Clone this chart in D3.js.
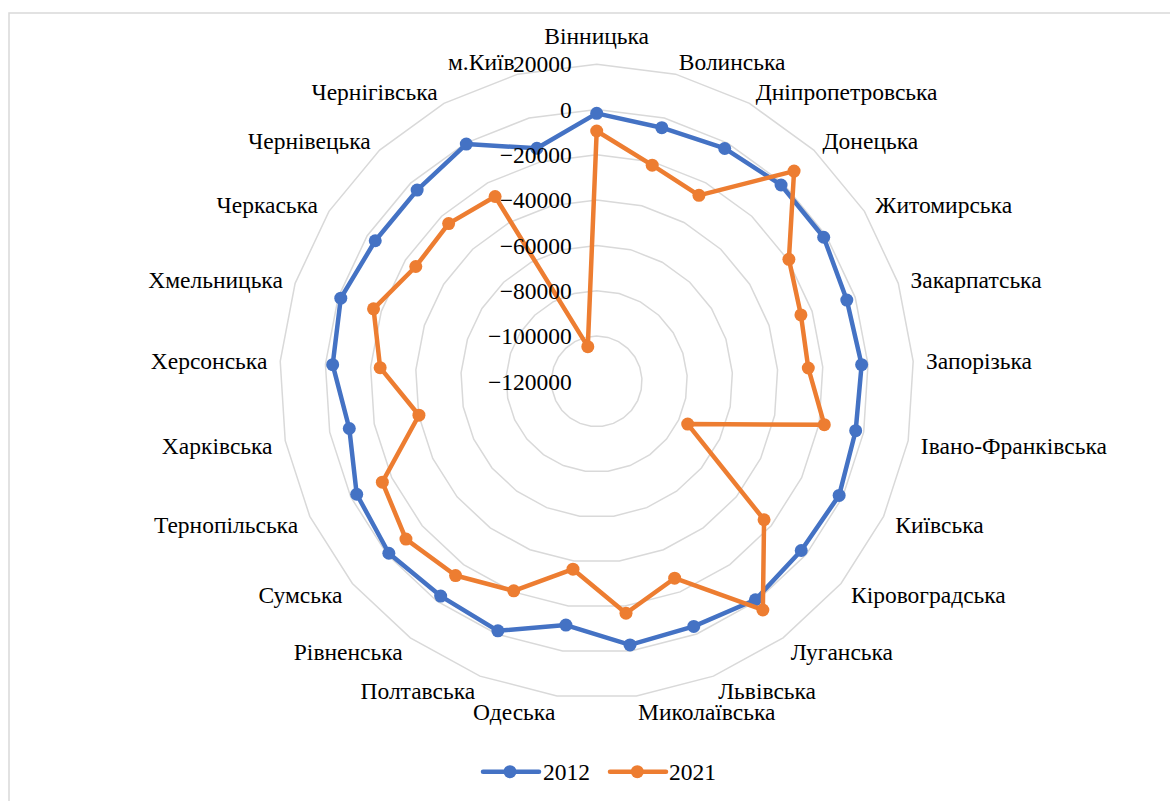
<!DOCTYPE html>
<html><head><meta charset="utf-8">
<script src="https://cdn.jsdelivr.net/npm/d3@7"></script>
<style>html,body{margin:0;padding:0;background:#fff;overflow:hidden}</style>
</head><body>
<svg id="c" width="1170" height="801"></svg>
<script>
const categories = ["Вінницька","Волинська","Дніпропетровська","Донецька","Житомирська","Закарпатська","Запорізька","Івано-Франківська","Київська","Кіровоградська","Луганська","Львівська","Миколаївська","Одеська","Полтавська","Рівненська","Сумська","Тернопільська","Харківська","Херсонська","Хмельницька","Черкаська","Чернівецька","Чернігівська","м.Київ"];
const values2012 = [-1700,-4400,-2700,-1100,-1300,-3900,-2800,-3600,-1700,-2800,-800,-3600,-2700,-11500,-1500,-2800,-900,-2900,-8800,-3200,-1200,-4200,-4200,-500,-13800];
const values2021 = [-9500,-21500,-26300,7300,-19500,-25200,-26400,-17700,-75600,-24100,4800,-26500,-16800,-36400,-20500,-14000,-10700,-15400,-40100,-24200,-16400,-25400,-24500,-26900,-104200];
const seriesNames = ["2012","2021"];
const tickValues = [-120000,-100000,-80000,-60000,-40000,-20000,0,20000];

const family = '"Liberation Serif","Times New Roman",serif';
const fs = 23.5;
const colors = ["#4472C4","#ED7D31"];
const svg = d3.select("#c");
const cx = 596.7, cy = 381.3;
svg.append("rect").attr("x",9).attr("y",13).attr("width",1200).attr("height",900)
  .attr("fill","#fff").attr("stroke","#d9d9d9").attr("stroke-width",1.5);

const r = d3.scaleLinear().domain([-120000,20000]).range([0,317.1]);
const n = categories.length;
const ang = d3.scaleLinear().domain([0,n]).range([0,2*Math.PI]);
const pt = (i,v)=>[cx + r(v)*Math.sin(ang(i)), cy - r(v)*Math.cos(ang(i))];

const g = svg.append("g").style("font-family", family);
tickValues.slice(1).forEach(t=>{
  const pts = d3.range(n).map(i=>pt(i,t));
  g.append("path").attr("d", d3.line().curve(d3.curveLinearClosed)(pts))
    .attr("fill","none").attr("stroke","#d9d9d9").attr("stroke-width",1.5);
});
[values2012, values2021].forEach((vals,si)=>{
  const pts = vals.map((v,i)=>pt(i,v));
  g.append("path").attr("d", d3.line().curve(d3.curveLinearClosed)(pts))
    .attr("fill","none").attr("stroke",colors[si]).attr("stroke-width",4.5).attr("stroke-linejoin","round");
  g.selectAll(null).data(pts).enter().append("circle")
    .attr("cx",d=>d[0]).attr("cy",d=>d[1]).attr("r",6.5).attr("fill",colors[si]);
});
tickValues.forEach(t=>{
  g.append("text").attr("x",cx-25).attr("y",cy - r(t)).attr("dy","0.35em")
    .attr("text-anchor","end").attr("font-size",fs).attr("fill","#000")
    .text(d3.format("d")(t));
});
const R = 330;
categories.forEach((c,i)=>{
  const a = ang(i);
  const x = cx + R*Math.sin(a), y = cy - R*Math.cos(a);
  let anchor = "middle";
  if (i>0 && i<n/2) anchor="start"; else if (i>n/2) anchor="end";
  const t = g.append("text").attr("x",x).attr("font-size",fs)
    .attr("fill","#000").attr("text-anchor",anchor).text(c);
  if (i===0) t.attr("y",y-7);
  else t.attr("y",y + (Math.cos(a)<0?3:0)).attr("dy","0.35em");
});
const leg = [[483,539,510,543],[610,666,637.3,669]];
const lg = svg.append("g").style("font-family", family);
seriesNames.forEach((s,si)=>{
  const L = leg[si], ly = 771.7;
  lg.append("line").attr("x1",L[0]).attr("x2",L[1]).attr("y1",ly).attr("y2",ly)
    .attr("stroke",colors[si]).attr("stroke-width",4.5).attr("stroke-linecap","round");
  lg.append("circle").attr("cx",L[2]).attr("cy",ly).attr("r",6.5).attr("fill",colors[si]);
  lg.append("text").attr("x",L[3]).attr("y",ly).attr("dy","0.35em")
    .attr("font-size",fs).attr("fill","#000").text(s);
});
</script>
</body></html>
